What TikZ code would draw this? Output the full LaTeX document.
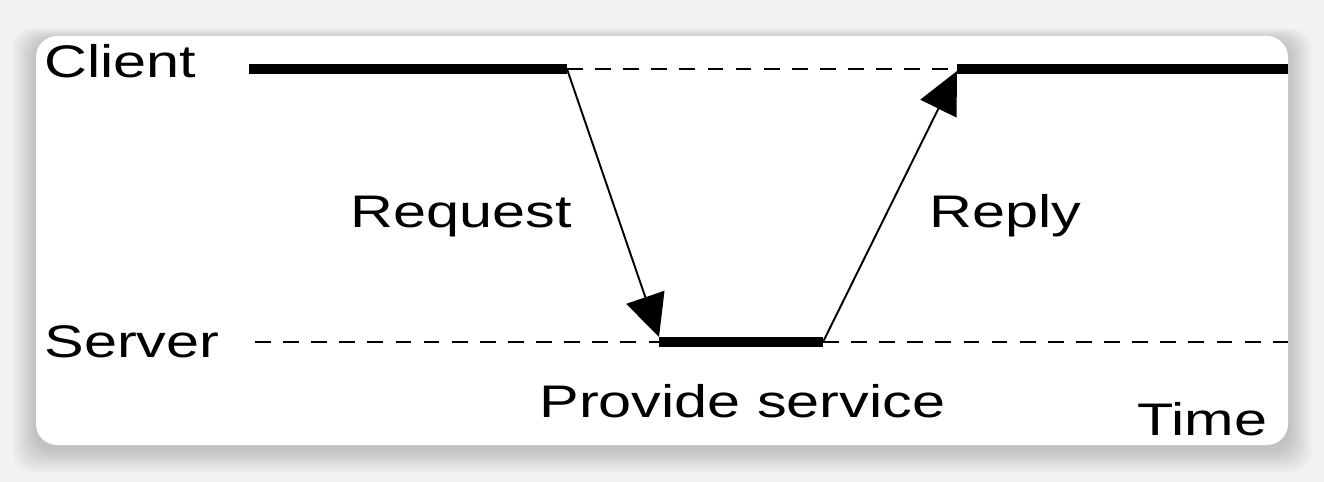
\documentclass[tikz,border=0pt]{standalone}
\usepackage{fontspec}
\setmainfont{Liberation Sans}
\usepackage{tikz}
\usepackage{xcolor}
\usetikzlibrary{arrows.meta}

\definecolor{pagegray}{RGB}{242,242,242}

\tikzset{
    lbl/.style={anchor=base west, inner sep=0, xscale=1.3, font=\fontsize{26}{31}\selectfont},
    busy/.style={line width=6.2pt},
    idle/.style={line width=1.3pt, dash pattern=on 9pt off 7pt},
    msg/.style={line width=1.1pt, -{Triangle[length=0.84cm,width=0.8cm]}}
}

\begin{document}
\begin{tikzpicture}[x=0.02cm,y=-0.02cm]

    \useasboundingbox (0,0) rectangle (1324,482);

    %===========================
    % Card
    %===========================

    \fill[pagegray] (0,0) rectangle (1324,482);
    \foreach \s in {1,...,12}
        \fill[black, opacity=0.014, rounded corners=12] (36-2*\s,40-1*\s) rectangle (1288+2*\s,449+2*\s);
    \fill[white, rounded corners=12] (36,36) rectangle (1288,445);

    %===========================
    % Timelines
    %===========================

    \node[lbl] (client) at (44,78) {Client};
    \node[lbl] (server) at (44,358) {Server};

    \coordinate (C0) at (249,69);
    \coordinate (C1) at (567,69);
    \coordinate (C2) at (957,69);
    \coordinate (C3) at (1288,69);

    \coordinate (S0) at (255,342);
    \coordinate (S1) at (659,342);
    \coordinate (S2) at (823,342);
    \coordinate (S3) at (1288,342);

    \draw[busy] (C0) -- (C1);
    \draw[idle] (C1) -- (C2);
    \draw[busy] (C2) -- (C3);

    \draw[idle] (S0) -- (S1);
    \draw[busy] (S1) -- (S2);
    \draw[idle] (S2) -- (S3);

    %===========================
    % Messages
    %===========================
    \coordinate (Rq) at (659,337);
    \coordinate (Rp) at (957,71);
    \draw[msg] (C1) to (Rq);
    \draw[msg] (S2) to (Rp);

    \node[lbl] (request) at (350,228) {Request};
    \node[lbl] (reply) at (929,228) {Reply};
    \node[lbl] (service) at (539,418) {Provide service};
    \node[lbl] (time) at (1137,436) {Time};

\end{tikzpicture}
\end{document}
